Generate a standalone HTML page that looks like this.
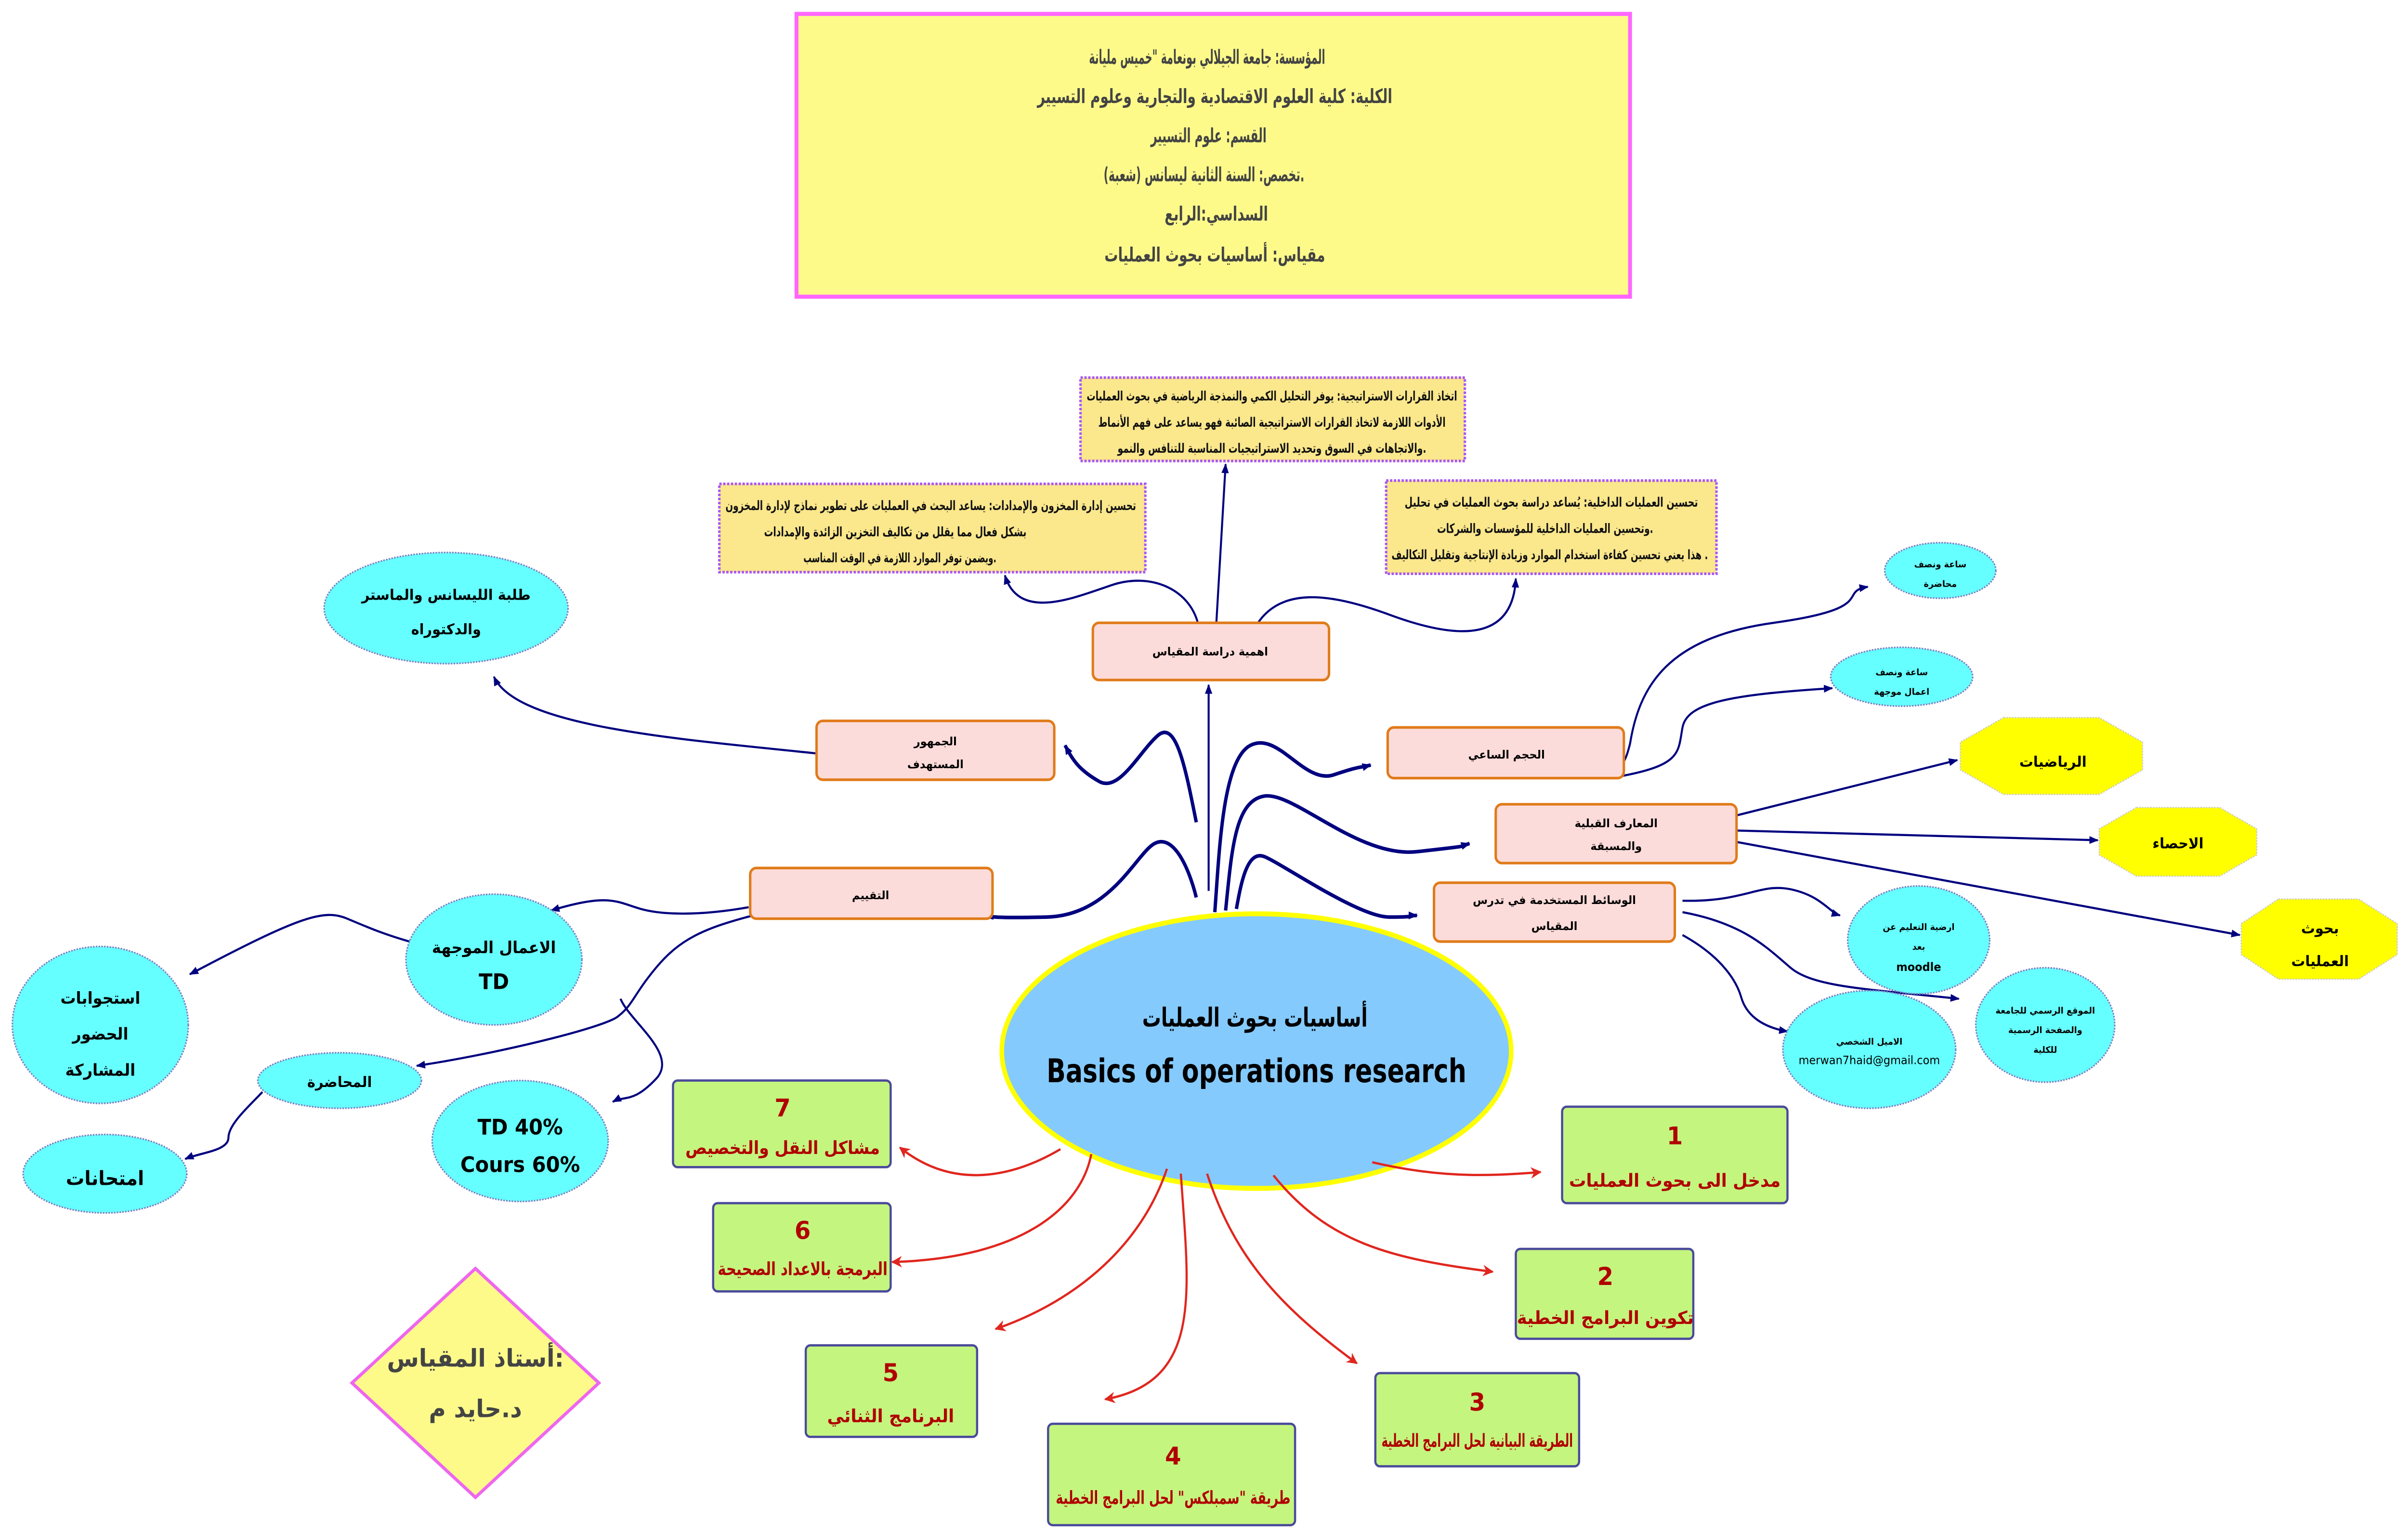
<!DOCTYPE html>
<html><head><meta charset="utf-8">
<style>
html,body{margin:0;padding:0;background:#fff;width:100%;height:100%;overflow:hidden;}
svg{display:block;width:100vw;height:100vh;}
text{font-family:"DejaVu Sans","Liberation Sans",sans-serif;}
.ar{font-weight:bold;}
</style></head>
<body>
<svg viewBox="0 0 1560 937.8" preserveAspectRatio="none" xmlns="http://www.w3.org/2000/svg" overflow="hidden">
<defs>
<marker id="nb" viewBox="0 0 10 10" refX="9" refY="5" markerWidth="6" markerHeight="6" orient="auto-start-reverse" markerUnits="userSpaceOnUse"><path d="M0,1 L10,5 L0,9 z" fill="#00007f"/></marker>
<marker id="rd" viewBox="0 0 10 10" refX="9" refY="5" markerWidth="7" markerHeight="7" orient="auto-start-reverse" markerUnits="userSpaceOnUse"><path d="M0,0 L10,5 L0,10 L3,5 z" fill="#e0261e"/></marker>
</defs>
<rect width="1560" height="937.8" fill="#fff"/>

<rect x="516" y="8.5" width="540" height="173" fill="#fdfa8a" stroke="#ff66ff" stroke-width="2.5"/>
<g class="ar" fill="#444" font-size="12" text-anchor="middle">
<text x="782" y="39" textLength="153" lengthAdjust="spacingAndGlyphs">المؤسسة: جامعة الجيلالي بونعامة  "خميس مليانة</text>
<text x="787" y="63" textLength="230" lengthAdjust="spacingAndGlyphs">الكلية: كلية العلوم الاقتصادية والتجارية وعلوم التسيير</text>
<text x="783" y="87" textLength="75" lengthAdjust="spacingAndGlyphs">القسم: علوم التسيير</text>
<text x="780" y="111" textLength="130" lengthAdjust="spacingAndGlyphs">تخصص: السنة الثانية ليسانس (شعبة).</text>
<text x="788" y="135" textLength="67" lengthAdjust="spacingAndGlyphs">السداسي:الرابع</text>
<text x="787" y="160" textLength="143" lengthAdjust="spacingAndGlyphs">مقياس: أساسيات بحوث العمليات</text>
</g>

<g fill="#fbe78c" stroke="#a855f7" stroke-width="1.6" stroke-dasharray="1.5,1">
<rect x="700" y="231" width="249" height="51"/>
<rect x="466" y="296" width="276" height="54"/>
<rect x="898" y="294" width="214" height="57"/>
</g>
<g class="ar" fill="#111" font-size="8" text-anchor="middle">
<text x="824" y="245" textLength="240" lengthAdjust="spacingAndGlyphs">اتخاذ القرارات الاستراتيجية: يوفر التحليل الكمي والنمذجة الرياضية في بحوث العمليات</text>
<text x="824" y="261" textLength="225" lengthAdjust="spacingAndGlyphs">الأدوات اللازمة لاتخاذ القرارات الاستراتيجية الصائبة فهو يساعد على فهم الأنماط</text>
<text x="824" y="277" textLength="200" lengthAdjust="spacingAndGlyphs">والاتجاهات في السوق وتحديد الاستراتيجيات المناسبة للتنافس والنمو.</text>
<text x="603" y="312" textLength="266" lengthAdjust="spacingAndGlyphs">تحسين إدارة المخزون والإمدادات: يساعد البحث في العمليات على تطوير نماذج لإدارة المخزون</text>
<text x="580" y="328" textLength="170" lengthAdjust="spacingAndGlyphs">بشكل فعال مما يقلل من تكاليف التخزين الزائدة والإمدادات</text>
<text x="583" y="344" textLength="125" lengthAdjust="spacingAndGlyphs">ويضمن توفر الموارد اللازمة في الوقت المناسب.</text>
<text x="1005" y="310" textLength="190" lengthAdjust="spacingAndGlyphs">تحسين العمليات الداخلية: يُساعد دراسة بحوث العمليات في تحليل</text>
<text x="1001" y="326" textLength="140" lengthAdjust="spacingAndGlyphs">وتحسين العمليات الداخلية للمؤسسات والشركات.</text>
<text x="1004" y="342" textLength="205" lengthAdjust="spacingAndGlyphs">هذا يعني تحسين كفاءة استخدام الموارد وزيادة الإنتاجية وتقليل التكاليف .</text>
</g>

<g fill="none" stroke="#00007f" stroke-width="1.3" marker-end="url(#nb)">
<path d="M776,381 C770,360 745,350 720,358 S660,380 651,352"/>
<path d="M788,381 L794,284"/>
<path d="M815,381 C830,360 860,362 900,376 S980,395 982,354"/>
<path d="M783,545 L783,419"/>
<path d="M530,461 C440,452 335,445 320,414"/>
<path d="M1046,468 C1052,470 1054,462 1056,455 C1062,420 1080,390 1149,381 S1190,362 1210,359"/>
<path d="M1049,475 C1090,468 1087,460 1090,445 S1120,425 1187,421"/>
<path d="M1120,500 L1268,465"/>
<path d="M1122,508 L1359,514"/>
<path d="M1119,514 L1451,572"/>
<path d="M1090,551 C1130,552 1140,540 1160,544 S1185,558 1192,560"/>
<path d="M1090,558 C1130,565 1145,580 1160,592 S1210,605 1269,611"/>
<path d="M1090,572 C1115,585 1125,600 1128,610 S1140,628 1158,631"/>
<path d="M485,555 C455,560 430,560 415,556 S395,546 357,557"/>
<path d="M269,577 C250,572 240,568 225,562 S195,560 123,596"/>
<path d="M488,560 C455,568 440,575 425,592 S410,615 400,622 S320,645 270,652"/>
<path d="M402,611 C408,625 440,645 425,660 S405,670 397,674"/>
<path d="M170,668 C160,678 148,688 148,696 S130,705 120,709"/>
</g>
<g fill="none" stroke="#00007f" stroke-width="2.2" marker-end="url(#nb)">
<path d="M775,503 C768,470 762,440 750,450 S725,485 712,478 S695,465 690,456"/>
<path d="M787,558 C790,520 792,465 810,456 S845,480 864,474 S880,470 888,468"/>
<path d="M794,557 C798,520 800,490 819,487 S880,525 918,521 S945,518 952,516"/>
<path d="M801,556 C804,540 808,520 819,524 S880,561 900,561 S912,560 918,560"/>
<path d="M775,549 C770,530 760,510 748,516 S720,560 678,561 S645,560 638,561"/>
</g>

<g fill="#fcdcda" stroke="#e07b1a" stroke-width="1.6">
<rect x="708" y="381" width="153" height="35" rx="4"/>
<rect x="529" y="441" width="154" height="36" rx="4"/>
<rect x="899" y="445" width="153" height="31" rx="4"/>
<rect x="969" y="492" width="156" height="36" rx="4"/>
<rect x="929" y="540" width="156" height="36" rx="4"/>
<rect x="486" y="531" width="157" height="31" rx="4"/>
</g>
<g class="ar" fill="#000" font-size="7" text-anchor="middle">
<text x="784" y="401">اهمية دراسة المقياس</text>
<text x="606" y="456">الجمهور</text>
<text x="606" y="470">المستهدف</text>
<text x="976" y="464">الحجم الساعي</text>
<text x="1047" y="506">المعارف القبلية</text>
<text x="1047" y="520">والمسبقة</text>
<text x="1007" y="553">الوسائط المستخدمة في تدرس</text>
<text x="1007" y="569">المقياس</text>
<text x="564" y="550">التقييم</text>
</g>

<g fill="#66ffff" stroke="#8080c0" stroke-width="1" stroke-dasharray="1,0.8">
<ellipse cx="289" cy="372" rx="79" ry="34"/>
<ellipse cx="1257" cy="349" rx="36" ry="17"/>
<ellipse cx="1232" cy="414" rx="46" ry="18"/>
<ellipse cx="1243" cy="575" rx="46" ry="33"/>
<ellipse cx="1325" cy="627" rx="45" ry="35"/>
<ellipse cx="1211" cy="642" rx="56" ry="36"/>
<ellipse cx="320" cy="587" rx="57" ry="40"/>
<ellipse cx="65" cy="627" rx="57" ry="48"/>
<ellipse cx="220" cy="661" rx="53" ry="17"/>
<ellipse cx="68" cy="718" rx="53" ry="24"/>
<ellipse cx="337" cy="698" rx="57" ry="37"/>
</g>
<g class="ar" fill="#000" text-anchor="middle">
<text x="289" y="367" font-size="9">طلبة الليسانس والماستر</text>
<text x="289" y="388" font-size="9">والدكتوراه</text>
<text x="1257" y="347" font-size="5.5">ساعة ونصف</text>
<text x="1257" y="359" font-size="5.5">محاضرة</text>
<text x="1232" y="413" font-size="5.5">ساعة ونصف</text>
<text x="1232" y="425" font-size="5.5">اعمال موجهة</text>
<text x="1243" y="569" font-size="5.5">ارضية التعليم عن</text>
<text x="1243" y="581" font-size="5.5">بعد</text>
<text x="1243" y="594" font-size="7" font-family="Liberation Serif">moodle</text>
<text x="1325" y="620" font-size="5.5">الموقع الرسمي للجامعة</text>
<text x="1325" y="632" font-size="5.5">والصفحة الرسمية</text>
<text x="1325" y="644" font-size="5.5">للكلية</text>
<text x="1211" y="639" font-size="5.5">الاميل الشخصي</text>
<text x="1211" y="651" font-size="7" font-family="Liberation Serif" font-weight="normal">merwan7haid@gmail.com</text>
<text x="320" y="583" font-size="10">الاعمال الموجهة</text>
<text x="320" y="605" font-size="13" font-family="Liberation Serif">TD</text>
<text x="65" y="614" font-size="10">استجوابات</text>
<text x="65" y="636" font-size="10">الحضور</text>
<text x="65" y="658" font-size="10">المشاركة</text>
<text x="220" y="665" font-size="9">المحاضرة</text>
<text x="68" y="725" font-size="12">امتحانات</text>
<text x="337" y="694" font-size="13" font-family="Liberation Serif">TD 40%</text>
<text x="337" y="717" font-size="13" font-family="Liberation Serif">Cours 60%</text>
</g>

<g fill="#ffff00" stroke="#cccccc" stroke-width="0.8" stroke-dasharray="1,0.8">
<polygon points="1298,439 1360,439 1388,454 1388,471 1360,486 1298,486 1270,471 1270,454"/>
<polygon points="1384,494 1438,494 1462,507 1462,523 1438,536 1384,536 1360,523 1360,507"/>
<polygon points="1476,550 1528,550 1553,565 1553,584 1528,599 1476,599 1452,584 1452,565"/>
</g>
<g class="ar" fill="#000" font-size="9" text-anchor="middle">
<text x="1330" y="469">الرياضيات</text>
<text x="1411" y="519">الاحصاء</text>
<text x="1503" y="571">بحوث</text>
<text x="1503" y="591">العمليات</text>
</g>

<ellipse cx="814" cy="643" rx="165" ry="84" fill="#85cafc" stroke="#ffff00" stroke-width="3"/>
<text class="ar" x="813" y="628" font-size="16" text-anchor="middle" fill="#000" textLength="146" lengthAdjust="spacingAndGlyphs">أساسيات بحوث العمليات</text>
<text x="814" y="662" font-size="20" text-anchor="middle" fill="#000" font-family="Liberation Serif" font-weight="bold" textLength="272" lengthAdjust="spacingAndGlyphs">Basics of operations research</text>

<g fill="none" stroke="#e0261e" stroke-width="1.4" marker-end="url(#rd)">
<path d="M889,711 C930,720 960,720 998,717"/>
<path d="M825,719 C860,760 900,770 967,778"/>
<path d="M782,718 C800,770 830,800 879,834"/>
<path d="M765,718 C770,790 780,845 716,856"/>
<path d="M756,715 C740,760 700,795 645,813"/>
<path d="M707,706 C700,740 660,770 578,772"/>
<path d="M687,703 C660,718 620,730 583,702"/>
</g>

<g fill="#c4f57f" stroke="#4a4a9a" stroke-width="1.4">
<rect x="1012" y="677" width="146" height="59" rx="3"/>
<rect x="982" y="764" width="115" height="55" rx="3"/>
<rect x="891" y="840" width="132" height="57" rx="3"/>
<rect x="679" y="871" width="160" height="62" rx="3"/>
<rect x="522" y="823" width="111" height="56" rx="3"/>
<rect x="462" y="736" width="115" height="54" rx="3"/>
<rect x="436" y="661" width="141" height="53" rx="3"/>
</g>
<g class="ar" fill="#b00000" text-anchor="middle">
<g font-family="Liberation Serif" font-size="15">
<text x="1085" y="700">1</text>
<text x="1040" y="786">2</text>
<text x="957" y="863">3</text>
<text x="760" y="896">4</text>
<text x="577" y="845">5</text>
<text x="520" y="758">6</text>
<text x="507" y="683">7</text>
</g>
<g font-size="11">
<text x="1085" y="726">مدخل الى بحوث العمليات</text>
<text x="1040" y="810">تكوين البرامج الخطية</text>
<text x="957" y="885" textLength="124" lengthAdjust="spacingAndGlyphs">الطريقة البيانية لحل البرامج الخطية</text>
<text x="760" y="920" textLength="152" lengthAdjust="spacingAndGlyphs">طريقة "سمبلكس" لحل البرامج الخطية</text>
<text x="577" y="870">البرنامج الثنائي</text>
<text x="520" y="780" textLength="110" lengthAdjust="spacingAndGlyphs">البرمجة بالاعداد الصحيحة</text>
<text x="507" y="706" textLength="126" lengthAdjust="spacingAndGlyphs">مشاكل النقل والتخصيص</text>
</g>
</g>

<polygon points="308,776 388,846 308,916 228,846" fill="#fdfa8a" stroke="#ee66ee" stroke-width="2"/>
<g class="ar" fill="#444" font-size="15" text-anchor="middle">
<text x="308" y="836">أستاذ المقياس:</text>
<text x="308" y="867">د.حايد  م</text>
</g>
</svg>
</body></html>
